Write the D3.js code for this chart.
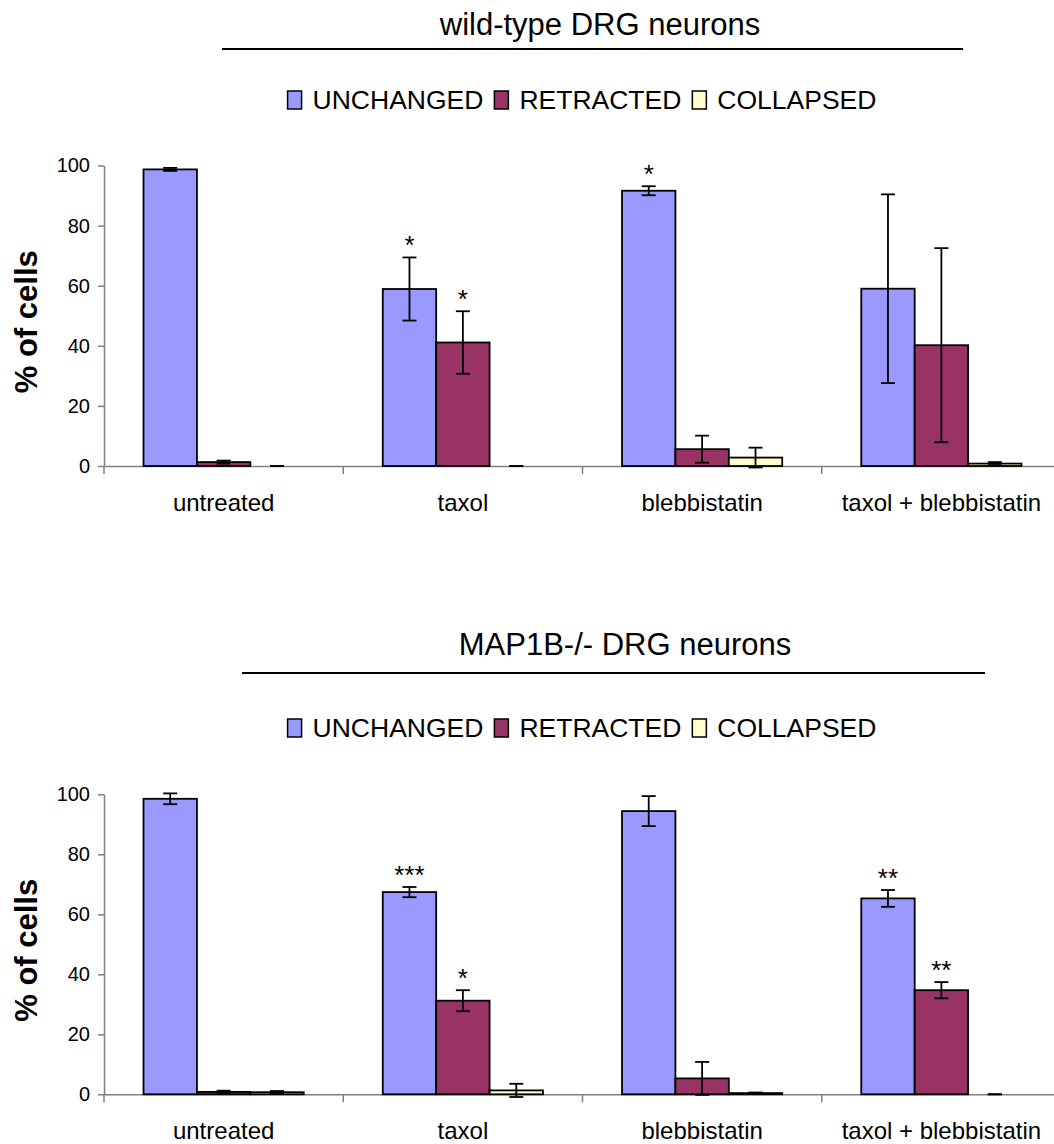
<!DOCTYPE html>
<html>
<head>
<meta charset="utf-8">
<script src="https://cdn.jsdelivr.net/npm/d3@7"></script>
<style>
  html, body { margin: 0; padding: 0; background: #fff; }
  svg { display: block; font-family: "Liberation Sans", Arial, sans-serif; }
</style>
</head>
<body>
<script>
// ---- data -------------------------------------------------------------
const categories = ["untreated", "taxol", "blebbistatin", "taxol + blebbistatin"];
const seriesNames = ["UNCHANGED", "RETRACTED", "COLLAPSED"];
const seriesColors = ["#9999ff", "#993366", "#ffffcc"];
const yTicks = [0, 20, 40, 60, 80, 100];

// wild-type DRG neurons (% of cells, mean and error)
const wtUnchanged    = [98.7, 58.9, 91.6, 59.0];
const wtUnchangedErr = [0.5, 10.5, 1.5, 31.4];
const wtRetracted    = [1.3, 41.1, 5.6, 40.2];
const wtRetractedErr = [0.5, 10.4, 4.5, 32.3];
const wtCollapsed    = [0, 0, 2.8, 0.8];
const wtCollapsedErr = [0, 0, 3.3, 0.5];
const wtStarsUnchanged = ["", "*", "*", ""];
const wtStarsRetracted = ["", "*", "", ""];
const wtStarsCollapsed = ["", "", "", ""];

// MAP1B-/- DRG neurons
const koUnchanged    = [98.5, 67.4, 94.4, 65.3];
const koUnchangedErr = [1.8, 1.7, 5.0, 2.8];
const koRetracted    = [0.8, 31.2, 5.3, 34.7];
const koRetractedErr = [0.4, 3.5, 5.5, 2.7];
const koCollapsed    = [0.7, 1.3, 0.4, 0];
const koCollapsedErr = [0.4, 2.2, 0.2, 0];
const koStarsUnchanged = ["", "***", "", "**"];
const koStarsRetracted = ["", "*", "", "**"];
const koStarsCollapsed = ["", "", "", ""];

// ---- layout -------------------------------------------------------------
const W = 1054, H = 1144;
const svg = d3.select("body").append("svg")
  .attr("width", W).attr("height", H)
  .attr("viewBox", `0 0 ${W} ${H}`);

const AXIS = "#808080";
const x = d3.scaleBand().domain(categories).range([104, 1061]).padding(0);
const inner = d3.scaleBand().domain(seriesNames)
  .range([0, x.bandwidth()]).paddingInner(0).paddingOuter(0.74);

const panels = [
  {
    title: "wild-type DRG neurons", titleX: 600, titleY: 35,
    rule: [222, 963, 49], legendY: 109, yRange: [466, 165.5],
    values: [wtUnchanged, wtRetracted, wtCollapsed],
    errors: [wtUnchangedErr, wtRetractedErr, wtCollapsedErr],
    stars: [wtStarsUnchanged, wtStarsRetracted, wtStarsCollapsed]
  },
  {
    title: "MAP1B-/- DRG neurons", titleX: 625, titleY: 655,
    rule: [242, 985, 673], legendY: 737, yRange: [1094.3, 794.3],
    values: [koUnchanged, koRetracted, koCollapsed],
    errors: [koUnchangedErr, koRetractedErr, koCollapsedErr],
    stars: [koStarsUnchanged, koStarsRetracted, koStarsCollapsed]
  }
];

panels.forEach(p => {
  const g = svg.append("g");
  const y = d3.scaleLinear().domain([0, 100]).range(p.yRange);
  const y0 = y(0);

  // title and rule beneath it
  g.append("text")
    .attr("x", p.titleX).attr("y", p.titleY)
    .attr("text-anchor", "middle")
    .attr("font-size", 31)
    .text(p.title);
  g.append("line")
    .attr("x1", p.rule[0]).attr("x2", p.rule[1])
    .attr("y1", p.rule[2]).attr("y2", p.rule[2])
    .attr("stroke", "#000").attr("stroke-width", 2);

  // legend row
  const legend = g.append("g");
  let lx = 0;
  seriesNames.forEach((name, i) => {
    legend.append("rect")
      .attr("x", lx).attr("y", p.legendY - 18)
      .attr("width", 14).attr("height", 18)
      .attr("fill", seriesColors[i])
      .attr("stroke", "#000").attr("stroke-width", 1.5);
    const t = legend.append("text")
      .attr("x", lx + 25).attr("y", p.legendY)
      .attr("font-size", 26.5)
      .text(name);
    lx += 25 + t.node().getComputedTextLength() + 11;
  });
  const lw = lx - 11;
  legend.attr("transform", `translate(${582 - lw / 2},0)`);

  // y axis
  const yAxis = g.append("g")
    .attr("transform", "translate(104,0)")
    .call(d3.axisLeft(y).tickValues(yTicks).tickSize(6).tickSizeOuter(0).tickPadding(8));
  yAxis.select(".domain").attr("stroke", AXIS).attr("stroke-width", 1.5);
  yAxis.selectAll(".tick line").attr("stroke", AXIS).attr("stroke-width", 1.5);
  yAxis.selectAll(".tick text")
    .attr("font-size", 20).attr("fill", "#000")
    .attr("font-family", "\"Liberation Sans\", Arial, sans-serif");

  // y axis title
  const yMid = (p.yRange[0] + p.yRange[1]) / 2 + 6;
  g.append("text")
    .attr("transform", `translate(37,${yMid}) rotate(-90)`)
    .attr("text-anchor", "middle")
    .attr("font-size", 31).attr("font-weight", "bold")
    .text("% of cells");

  // x axis: baseline, category labels, boundary ticks
  const xAxis = g.append("g")
    .attr("transform", `translate(0,${y0})`)
    .call(d3.axisBottom(x).tickSize(0).tickPadding(28));
  xAxis.select(".domain").attr("stroke", AXIS).attr("stroke-width", 1.5);
  xAxis.selectAll(".tick text")
    .attr("font-size", 24).attr("fill", "#000")
    .attr("font-family", "\"Liberation Sans\", Arial, sans-serif");
  const bounds = categories.map(c => x(c)).concat([x.range()[1]]);
  g.selectAll(".cat-tick").data(bounds).join("line")
    .attr("class", "cat-tick")
    .attr("x1", d => d).attr("x2", d => d)
    .attr("y1", y0).attr("y2", y0 + 8)
    .attr("stroke", AXIS).attr("stroke-width", 1.5);

  // bars
  seriesNames.forEach((name, si) => {
    const rows = categories.map((c, ci) => ({
      c, v: p.values[si][ci], e: p.errors[si][ci], star: p.stars[si][ci]
    }));
    const bx = d => x(d.c) + inner(name);
    const cx = d => bx(d) + inner.bandwidth() / 2;

    g.append("g").selectAll("rect").data(rows.filter(d => d.v > 0)).join("rect")
      .attr("x", bx).attr("width", inner.bandwidth())
      .attr("y", d => y(d.v)).attr("height", d => y0 - y(d.v))
      .attr("fill", seriesColors[si])
      .attr("stroke", "#000").attr("stroke-width", 1.8);

    // error bars
    const eg = g.append("g").attr("stroke", "#000").attr("stroke-width", 1.8);
    rows.forEach(d => {
      const top = y(d.v + d.e), bot = y(d.v - d.e);
      eg.append("line").attr("x1", cx(d)).attr("x2", cx(d)).attr("y1", top).attr("y2", bot);
      eg.append("line").attr("x1", cx(d) - 7).attr("x2", cx(d) + 7).attr("y1", top).attr("y2", top);
      eg.append("line").attr("x1", cx(d) - 7).attr("x2", cx(d) + 7).attr("y1", bot).attr("y2", bot);
    });

    // significance marks
    g.append("g").selectAll("text").data(rows.filter(d => d.star)).join("text")
      .attr("x", cx).attr("y", d => y(d.v + d.e) - 3)
      .attr("text-anchor", "middle")
      .attr("font-size", 26)
      .text(d => d.star);
  });
});
</script>
</body>
</html>
